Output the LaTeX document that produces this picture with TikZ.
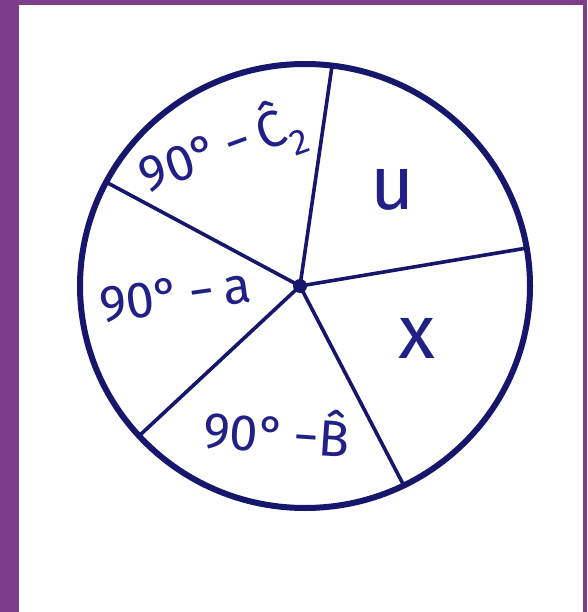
\documentclass[tikz,border=0pt]{standalone}
\usepackage{fontspec}
\setmainfont{Fira Sans}
\definecolor{bgpurple}{RGB}{124,61,138}
\definecolor{ink}{RGB}{32,32,135}
\definecolor{inkline}{RGB}{22,22,108}
\begin{document}
\begin{tikzpicture}[x=1pt,y=-1pt,
  rim/.style={draw=inkline,line width=6pt},
  spoke/.style={draw=inkline,line width=3.6pt,line cap=round},
  lbl/.style={text=ink,font=\fontsize{51}{60}\selectfont,inner sep=0pt},
  var/.style={text=ink,font=\fontsize{76}{80}\selectfont,inner sep=0pt},
  ]
\useasboundingbox (0,0) rectangle (587,612);
\fill[bgpurple] (0,0) rectangle (587,612);
\fill[white] (19,5) rectangle (583,612);
% centre and spoke ends
\coordinate (O) at (300,286);
\coordinate (A) at (332,66);
\coordinate (B) at (527,248);
\coordinate (C) at (403,484);
\coordinate (D) at (139,436);
\coordinate (E) at (106,182);
\draw[spoke] (O) -- (A);
\draw[spoke] (O) -- (B);
\draw[spoke] (O) -- (C);
\draw[spoke] (O) -- (D);
\draw[spoke] (O) -- (E);
\draw[rim] (305,286) ellipse [x radius=225, y radius=222];
\fill[inkline] (O) circle (7);
% labels
\node[lbl,rotate=20] (l1) at (222,150) {90°\,−\,\^{C}\textsubscript{2}};
\node[var] (l2) at (393,190) {u};
\node[var] (l3) at (417,338) {x};
\node[lbl,rotate=-4] (l4) at (277,430) {90°\,−\^{B}};
\node[lbl,rotate=8] (l5) at (175,295) {90°\,−\,a};
\end{tikzpicture}
\end{document}
